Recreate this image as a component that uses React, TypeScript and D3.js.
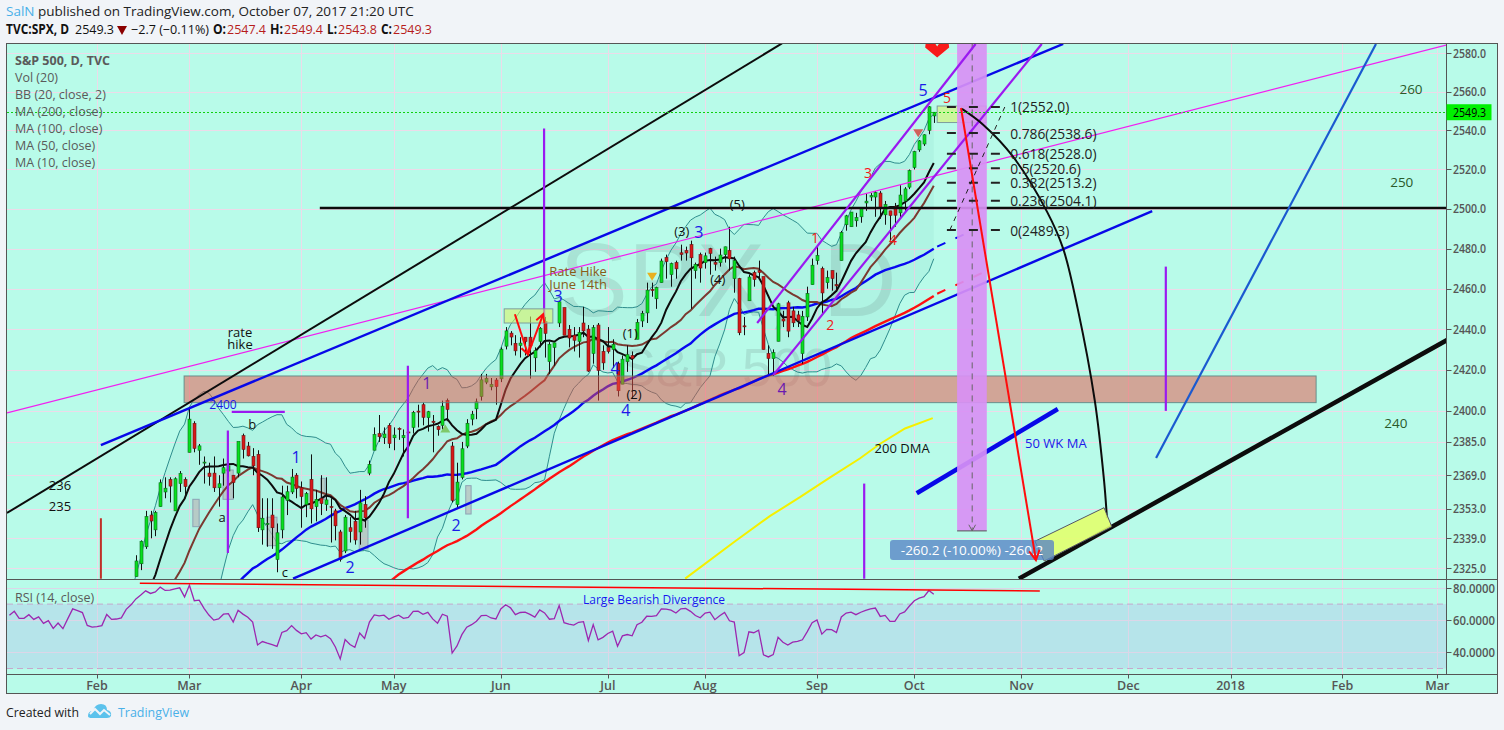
import React from "react";
import * as d3 from "d3";

// ---------- price data (trading days; bar 0 = 2017-02-01) ----------
const firstCloseBar = -53;
const closes = [
  2164.2,2180.4,2176.9,2187.1,2181.9,2198.2,2202.9,2204.7,2213.4,2201.7,2204.7,2198.8,2191.1,2192,2204.7,2212.2,2241.4,2246.2,
  2259.5,2257,2271.7,2253.3,2262,2258.1,2262.5,2270.8,2265.2,2261,2263.8,2268.9,2249.9,2249.3,2238.8,
  2257.8,2270.8,2269,2277,2268.9,2268.9,2275.3,2270.4,2274.6,2267.9,2271.9,2263.7,2271.3,2265.2,2280.1,2298.4,2296.7,2294.7,2280.9,2278.9,
  2279.6,2281,2297.4,2292.6,2293.1,2294.7,2307.9,2316.1,2328.3,2337.6,2349.3,2347.2,2351.2,2365.4,2362.8,2363.8,2367.3,2369.8,2363.6,
  2396,2381.9,2383.1,2375.3,2368.4,2363,2364.9,2372.6,2373.5,2365.5,2385.3,2381.4,2378.3,2373.5,2344,2348.5,2346,2344,2341.6,2358.6,2361.1,2368.1,2362.7,
  2358.8,2360.2,2353,2357.5,2355.5,2357.2,2353.8,2344.9,2329,2349,2342.2,2338.2,2355.8,2348.7,2374.2,2388.6,2387.5,2388.8,2384.2,
  2388.3,2391.2,2388.1,2389.5,2399.3,2399.4,2396.9,2399.6,2394.4,2390.9,2402.3,2400.7,2357,2365.7,2381.7,2394,2398.4,2404.4,2415.1,2415.8,2412.9,2411.8,
  2430.1,2439.1,2436.1,2429.3,2433.1,2433.8,2431.8,2429.4,2440.4,2437.9,2432.5,2433.2,2453.5,2437,2435.6,2434.5,2438.3,2439.1,2419.4,2440.7,2419.7,2423.4,
  2429,2432.5,2409.8,2425.2,2427.4,2425.5,2443.3,2447.8,2459.3,2459.1,2460.6,2473.8,2473.5,2472.5,2469.9,2477.1,2477.8,2475.4,2472.1,2470.3,
  2476.4,2477.6,2472.2,2476.8,2480.9,2474.9,2474,2438.2,2441.3,2465.8,2464.6,2468.1,2430,2425.6,2428.4,2452.5,2444,2439,2443.1,2444.2,2446.3,2457.6,2471.7,
  2476.6,2457.9,2465.5,2465.1,2461.4,2488.1,2496.5,2498.4,2495.6,2500.2,2503.9,2506.7,2508.2,2500.6,2502.2,2496.7,2496.8,2507,2510.1,2519.4,
  2529.1,2534.6,2537.7,2552.1,2549.3,
];
const firstCandleBar = 8;
const opens = [
  2321,2327,2335,2350,2343,2354,2361,2367,2352,2365,2367,2380,2394,2381,2375,2370,2370,2363,2370,2371,2369,2370,2388,2383,2378,2379,2343,2346,2350,2329,2343,2357,2361,2369,2363,2355,2367,2354,2358,2355,2354,2352,2342,2333,2344,2347,2342,2355,2370,2381,2389,2387,2393,
  2387,2391.5,2387,2389.8,2392,2399.9,2403,2396.7,2395,2392.5,2393,2405,2383,2355,2368,2383,2396,2401,2407,2414,2411.7,2415,2415.6,2431.6,2438,2433,2432,2436,2436,2425.9,2434,2443.8,2424,2431,2443,2450.6,2439.9,2437,2434,2443,2440,2428,2442,2429,
  2431,2430,2423,2413,2424,2427,2435,2444,2448,2459.6,2455,2463,2475.6,2467,2473,2477.9,2479,2482,2469,2477,2473,2480,2473,2473,2477,2479,2465,2465,2441.6,2454,2468,2469,2466,2428,2425.5,2434,2445,2453,2449,2447,2428,2446,2462,
  2474,2470,2463,2469,2462,2474,2492,2491,2494,2496,2503,2506,2506,2508,2497,2499,2501,2498,2504,2511,2521,2530,2533,2540,2547.4,
];
const highs = [
  2331,2338,2352,2352,2352,2367,2368,2368,2368,2371,2368,2401,2395,2384,2378,2375,2378,2369,2377,2375,2369,2372,2389,2385,2382,2381,2358,2358,2358,2346,2364,2364,2372,2370,2366,2361,2379,2362,2369,2368,2358,2353,2343,2350,2349,2352,2362,2359,2376,2392,2398,2392,2394,
  2392,2392,2391,2391,2400,2403,2404,2400,2398,2393,2405,2406,2385,2375,2385,2396,2400,2406,2418,2418,2416,2416,2431,2441,2439,2437,2436,2436,2446.2,2431,2441,2446,2433.6,2433,2453.8,2450.6,2442,2441,2441,2451,2442,2442,2443,2432,
  2441,2435,2424,2427,2432,2429,2445,2449,2463,2463,2461,2475,2477,2473,2474,2482,2481,2484,2473,2478,2478,2480.4,2476,2480,2481,2491,2476,2465.4,2446,2467,2469,2474,2466,2432,2430,2453,2449,2454,2451,2449,2449,2461,2475,
  2481,2471,2469,2469,2468,2488.9,2497,2498.4,2498,2500.4,2508,2508,2509,2509,2504,2499,2503,2512,2511,2520,2529.5,2535,2538,2552.5,2549.4,
];
const lows = [
  2321,2324,2334,2339,2340,2354,2358,2356,2352,2361,2358,2380,2380,2374,2365,2364,2361,2354,2364,2368,2358,2368,2377,2378,2369,2342,2336,2335,2334,2323,2339,2350,2360,2358,2344,2349,2346,2347,2350,2352,2337,2338,2328,2332,2337,2336,2336,2344,2369,2381,2385,2384,2382,
  2381,2386,2378,2380,2389,2392,2393,2390,2380,2388,2391,2395,2356,2353,2367,2382,2393,2396,2405,2413,2410,2403,2414,2430,2432,2427,2426,2427,2415.7,2419,2431,2426,2418,2422,2441,2437,2431,2429,2426,2436,2419,2423,2405,2420,
  2428,2421,2407,2413,2419,2406,2435,2441,2443,2456,2450,2463,2465,2461,2465,2474,2474,2450,2465,2463,2470,2467,2469,2471,2473,2469,2458,2437,2437,2454,2461,2465,2430,2417,2417,2434,2441,2436,2441,2441,2423,2444,2462,
  2472,2447,2460,2459,2459,2474,2489,2491,2491,2493,2499,2504,2496,2495,2492,2484,2491,2495,2499,2510,2520,2529,2532,2538,2543.8,
];

// ---------- the slowest average ----------
const ma200Bars = [120.9,131.1,138.3,144.5,150.7,156.8,160.9,166.1,171.8];
const ma200Vals = [2320,2337.5,2349.5,2358.5,2368,2377,2384,2391.5,2396.5];

// ---------- axes ----------
const priceTicks = [2580,2560,2540,2520,2500,2480,2460,2440,2420,2400,2385,2369,2353,2339,2325];
const rsiTicks = [80,60,40];
const monthLabels = ["Feb","Mar","Apr","May","Jun","Jul","Aug","Sep","Oct","Nov","Dec","2018","Feb","Mar"];
const monthBars = [0,19,42,61,83,105,125,148,168,190,212,233,256,275.5];
const lastPrice = 2549.3;

// ---------- drawing tools, as [bar, price] ----------
const blackThin = [[-18.5,2351],[140.8,2585]];
const blackLevel = [[45.8,2500.5],[277.5,2500.5]];
const blueUpper = [[0.8,2383.5],[198.6,2584.7]];
const blueLower = [[40.3,2320],[216.9,2498.9]];
const magentaLine = [[-18.5,2399],[277.5,2584.2]];
const blackThick = [[189.5,2320],[277.5,2434.6]];
const purpleUp1 = [[135.7,2443],[180.6,2584.7]];
const purpleUp2 = [[139,2417.4],[194.2,2584.7]];
const blueSteep = [[217.7,2377.3],[262.9,2584.7]];
const wk50 = [[168.5,2360.4],[197.5,2400.9]];
const ma50Dash = [[172.7,2481],[179.9,2489]];
const ma100Dash = [[172.7,2457.5],[182.1,2468]];
const bigRedArrow = [[177.6,2551.5],[193,2328.7]];
const redVeeA = [[85.9,2447.3],[88.6,2427.5]];
const redVeeB = [[88.6,2427.5],[91.7,2447.3]];
const arcPoints = [[177.8,2551],[182.1,2543],[188.3,2526.5],[195.3,2498.5],[198.6,2480],[201.6,2450],[205.1,2405],[207,2366.5],[207.6,2348.5]];
const purpleVerticals = [[91.9,2541,2445.8],[63.9,2422,2348.5],[26.9,2390.5,2332],[157.7,2365,2320],[219.7,2471,2400]];
const purpleFlat = [[27.7,2399.5],[38.6,2399.5]];
const redVertical = [[0.8,2348.5],[0.8,2320]];
const zoneBox = [17.9,250.6,2417,2404];
const bandBox = [176.8,182.9,2585,2342.5];
const bandCentre = 179.9;
const noteBoxes = [[83.7,93.7,2450,2443],[172.7,182.7,2552.5,2544]];
const yellowBox = [[192.8,2337.6],[207,2353.5],[208.6,2344.5],[194.7,2328.3]];
const greyBoxes = [[19.7,21,2357.5,2344.5],[25.9,28,2371.5,2357.5],[34.9,37,2349,2335.5],[46,46.9,2367.5,2357.5],[53.9,55.7,2347.5,2334],[75.8,76.9,2364,2350.5]];
const rsiDivergence = [[8.8,83],[193.8,78.1]];

const fibRatios = ["1","0.786","0.618","0.5","0.382","0.236","0"];
const fibPrices = [2552,2538.6,2528,2520.6,2513.2,2504.1,2489.3];
const fibFrom = 174.7, fibTo = 186, fibLabelBar = 187.7;
const fibTrend = [[175.3,2489.3],[186.6,2552]];

const blueNotes: [string,number,number][] = [["1",40.9,2377.5],["2",52,2325.5],["2",73.8,2345.5],["3",94.8,2456.5],["4",108.7,2400.5],["4",106.5,2421],["3",123.7,2488.5],["5",169.8,2561]];
const redNotes: [string,number,number][] = [["1",147.6,2485.5],["2",150.7,2442.5],["3",158.5,2518.5],["4",163.6,2484.5],["5",174.7,2557]];
const purpleNotes: [string,number,number][] = [["1",67.8,2413.5],["4",140.8,2410.5]];
const blackNotes: [string,number,number][] = [["rate",29.4,2438.5],["hike",29.4,2432.5],["b",31.9,2393.5],["a",25.7,2349],["c",38.6,2323],["(1)",109.6,2438],["(2)",110.4,2408],["(3)",120.2,2489],["(4)",127.6,2465],["(5)",131.6,2502.5],["200 DMA",165.5,2382],["236",-7.6,2364.5],["235",-7.6,2354.5]];
const levelNotes: [string,number,number][] = [["260",270.1,2561.5],["250",268.2,2513.5],["240",267,2394]];
const rateNotes: [string,number,number][] = [["Rate Hike",98.9,2469],["June 14th",98.9,2462.5]];
const legendLines = ["Vol (20)","BB (20, close, 2)","MA (200, close)","MA (100, close)","MA (50, close)","MA (10, close)"];

const FONT = "'Open Sans', 'Noto Sans', sans-serif";

// ---------- layout ----------
const L = 7, R = 1446.5, OUT = 1497.5, TOP = 43.5, MID = 579.5, RBOT = 674.5, BOT = 693.5;

const X = d3.scaleLinear().domain([0,168]).range([97,914.3]);
const Y = d3.scaleLog().domain([2325,2580]).range([568,53]);
const RY = d3.scaleLinear().domain([80,30]).range([588,668.5]);

const closeAt = (bar:number) => closes[bar-firstCloseBar];
const allBars = d3.range(firstCloseBar, firstCloseBar+closes.length);
const sma = (bar:number,n:number) => d3.mean(d3.range(bar-n+1,bar+1),(b)=>closeAt(b)) as number;
const bbBars = allBars.filter(b=>b>=-1);
const bb = bbBars.map(b=>{
  const w = d3.range(b-19,b+1).map(closeAt);
  const m = d3.mean(w) as number, s = Math.sqrt((d3.variance(w) as number)*19/20);
  return {b, m, up:m+2*s, lo:m-2*s};
});
const ma10 = allBars.filter(b=>b>=5).map(b=>[b,sma(b,10)]);
const ma50 = allBars.filter(b=>b>=25).map(b=>[b,sma(b,50)]);
const ma100 = allBars.filter(b=>b>=55).map(b=>[b,sma(b,100)]);
// Wilder RSI(14)
const rsi:number[][] = (()=>{
  const out:number[][] = [];
  let g=0,l=0;
  for(let k=1;k<closes.length;k++){
    const d=closes[k]-closes[k-1], up=Math.max(d,0), dn=Math.max(-d,0);
    if(k<=14){g+=up/14;l+=dn/14;} else {g=(g*13+up)/14;l=(l*13+dn)/14;}
    if(k>=14 && k+firstCloseBar>=-18){out.push([k+firstCloseBar,100-100/(1+g/l)]);}
  }
  return out;
})();

const pl = d3.line<number[]>().x(d=>X(d[0])).y(d=>Y(d[1]));
const rl = d3.line<number[]>().x(d=>X(d[0])).y(d=>RY(d[1]));

function arrowHead(seg:number[][], size:number){
  const [a,b]=seg; const x1=X(a[0]),y1=Y(a[1]),x2=X(b[0]),y2=Y(b[1]);
  const ang=Math.atan2(y2-y1,x2-x1);
  const p=(o:number)=>`${x2-size*Math.cos(ang-o)},${y2-size*Math.sin(ang-o)}`;
  return `M${p(0.5)}L${x2},${y2}L${p(-0.5)}`;
}
const Line=({d,c,w=1,dash}:{d:number[][],c:string,w?:number,dash?:string})=>
  <path d={pl(d) as string} fill="none" stroke={c} strokeWidth={w} strokeDasharray={dash}/>;

const Notes=({list,c,size,w}:{list:[string,number,number][],c:string,size:number,w?:number})=>
  <g fill={c} fontSize={size} fontWeight={w} textAnchor="middle" dominantBaseline="central">
    {list.map((n,k)=><text key={k} x={X(n[1])} y={Y(n[2])}>{n[0]}</text>)}
  </g>;

// fixed-width text, so the substituted font keeps the reference's extents
const T=({x,y,len,fill,bold,size=13.5,children}:{x:number,y:number,len:number,fill:string,bold?:boolean,size?:number,children:React.ReactNode})=>
  <text x={x} y={y} fill={fill} fontSize={size} fontWeight={bold?700:400} dominantBaseline="central" textLength={len} lengthAdjust="spacingAndGlyphs">{children}</text>;

export default function App(){
  const area = d3.area<typeof bb[0]>().x(d=>X(d.b)).y0(d=>Y(d.up)).y1(d=>Y(d.lo));
  const bbLine=(k:"up"|"lo"|"m")=>pl(bb.map(d=>[d.b,d[k]])) as string;
  const candleBars=d3.range(firstCandleBar,firstCandleBar+opens.length);
  const bW=R-L;
  return (
    <svg width={1504} height={730} style={{position:"absolute",left:0,top:0,display:"block"}} fontFamily={FONT}>
      <defs>
        <clipPath id="pp"><rect x={L} y={TOP} width={bW} height={MID-TOP}/></clipPath>
        <clipPath id="rp"><rect x={L} y={MID} width={bW} height={RBOT-MID}/></clipPath>
      </defs>
      <rect width={1504} height={730} fill="#f1f4f8"/>
      <rect x={L} y={TOP} width={OUT-L} height={BOT-TOP} fill="#b8fbe9"/>

      {/* grid */}
      <g stroke="#ecdbe9" strokeWidth={1}>
        {monthBars.map((b,k)=><line key={k} x1={Math.round(X(b))+.5} x2={Math.round(X(b))+.5} y1={TOP} y2={RBOT}/>)}
        {priceTicks.map(p=><line key={p} x1={L} x2={R} y1={Math.round(Y(p))+.5} y2={Math.round(Y(p))+.5}/>)}
        {rsiTicks.map(p=><line key={p} x1={L} x2={R} y1={Math.round(RY(p))+.5} y2={Math.round(RY(p))+.5}/>)}
      </g>

      <g clipPath="url(#pp)">
        {/* watermark */}
        <text x={728} y={316} textAnchor="middle" fontSize={103} fill="#5a6e6e" opacity={0.16} fontFamily="'Liberation Sans',sans-serif">SPX, D</text>
        <text x={726} y={386} textAnchor="middle" fontSize={54} fill="#5a6e6e" opacity={0.16} fontFamily="'Liberation Sans',sans-serif">S&amp;P 500</text>

        {/* bollinger */}
        <path d={area(bb) as string} fill="#1e8c82" opacity={0.06}/>
        <path d={bbLine("up")} fill="none" stroke="#2f8d8d" strokeWidth={1}/>
        <path d={bbLine("lo")} fill="none" stroke="#2f8d8d" strokeWidth={1}/>

        {/* grey note boxes */}
        {greyBoxes.map((g,k)=><rect key={k} x={X(g[0])} y={Y(g[2])} width={X(g[1])-X(g[0])} height={Y(g[3])-Y(g[2])} fill="#b9b9b9" fillOpacity={0.7} stroke="#8da3b5" strokeWidth={1}/>)}

        {/* averages */}
        <path d={pl(d3.zip(ma200Bars,ma200Vals) as number[][]) as string} fill="none" stroke="#f5f000" strokeWidth={2}/>
        <path d={pl(ma100) as string} fill="none" stroke="#ff1010" strokeWidth={2.4}/>
        <path d={pl(ma50) as string} fill="none" stroke="#0808f0" strokeWidth={2.4}/>
        <path d={bbLine("m")} fill="none" stroke="#7a3a30" strokeWidth={2}/>
        <path d={pl(ma10) as string} fill="none" stroke="#0c0c0c" strokeWidth={2}/>
        <Line d={ma50Dash} c="#0808f0" w={2} dash="9 11"/>
        <Line d={ma100Dash} c="#ff1010" w={2} dash="9 11"/>

        {/* candles */}
        {candleBars.map(b=>{
          const k=b-firstCandleBar,o=opens[k],h=highs[k],l=lows[k],c=closeAt(b);
          const cx=Math.round(X(b))+.5, up=c>=o;
          const y0=Y(Math.max(o,c)), y1=Y(Math.min(o,c));
          return <g key={b}>
            <line x1={cx} x2={cx} y1={Y(h)} y2={Y(l)} stroke="#111" strokeWidth={1}/>
            <rect x={cx-1.5} y={y0} width={3} height={Math.max(y1-y0,1)} fill={up?"#06e01e":"#d81818"} stroke={up?"#0a6a1b":"#6a1414"} strokeWidth={0.6}/>
          </g>;
        })}

        {/* zone */}
        <rect x={X(zoneBox[0])} y={Y(zoneBox[2])} width={X(zoneBox[1])-X(zoneBox[0])} height={Y(zoneBox[3])-Y(zoneBox[2])} fill="rgba(233,80,70,0.5)" stroke="rgba(80,130,130,0.8)"/>

        {/* trend lines */}
        <Line d={magentaLine} c="#f020f0" w={1.2}/>
        <Line d={blackThin} c="#0c0c0c" w={2}/>
        <Line d={blueUpper} c="#0808e8" w={2.4}/>
        <Line d={blueLower} c="#0808e8" w={2.4}/>
        <Line d={blackLevel} c="#0c0c0c" w={2.5}/>
        <Line d={blackThick} c="#0c0c0c" w={4.5}/>
        <Line d={blueSteep} c="#1a5ad0" w={2.2}/>
        <Line d={wk50} c="#0808e8" w={4.5}/>
        {purpleVerticals.map((v,k)=><Line key={k} d={[[v[0],v[1]],[v[0],v[2]]]} c="#9a1af0" w={2.2}/>)}
        <Line d={purpleFlat} c="#9a1af0" w={2.2}/>
        <Line d={redVertical} c="#c03028" w={2}/>

        {/* rectangles */}
        {noteBoxes.map((g,k)=><rect key={k} x={X(g[0])} y={Y(g[2])} width={X(g[1])-X(g[0])} height={Y(g[3])-Y(g[2])} fill="#d9f36a" fillOpacity={0.6} stroke="#7d9d9d"/>)}

        {/* projected drop band */}
        <rect x={X(bandBox[0])} y={Y(bandBox[2])} width={X(bandBox[1])-X(bandBox[0])} height={Y(bandBox[3])-Y(bandBox[2])} fill="#d890f4" fillOpacity={0.92} />
        <line x1={X(bandBox[0])} x2={X(bandBox[1])} y1={Y(bandBox[3])} y2={Y(bandBox[3])} stroke="#555"/>
        <Line d={[[bandCentre,bandBox[2]],[bandCentre,bandBox[3]]]} c="#666" w={1} dash="6 5"/>
        <path d={arrowHead([[bandCentre,bandBox[2]],[bandCentre,bandBox[3]]],7)} fill="none" stroke="#666"/>

        <Line d={purpleUp1} c="#9a1af0" w={2.2}/>
        <Line d={purpleUp2} c="#9a1af0" w={2.2}/>

        {/* black arc */}
        <path d={d3.line<number[]>().x(d=>X(d[0])).y(d=>Y(d[1])).curve(d3.curveCatmullRom)(arcPoints) as string} fill="none" stroke="#0c0c0c" strokeWidth={2}/>

        {/* fib */}
        {fibPrices.map((p,k)=><g key={k}>
          <line x1={X(fibFrom)} x2={X(fibTo)} y1={Y(p)} y2={Y(p)} stroke="#222" strokeWidth={2} strokeDasharray="9 13"/>
          <text x={X(fibLabelBar)} y={Y(p)} dominantBaseline="central" fontSize={13.8} fill="#222">{fibRatios[k]}({p.toFixed(1)})</text>
        </g>)}
        <Line d={fibTrend} c="#222" w={1} dash="5 5"/>

        {/* projected label */}
        <path d={`M${yellowBox.map(p=>`${X(p[0])},${Y(p[1])}`).join("L")}Z`} fill="#e2ff6e" fillOpacity={0.9} stroke="#556"/>
        <rect x={890} y={540} width={164} height={20} rx={3} fill="#5a86c6" fillOpacity={0.8}/>
        <text x={972} y={550} textAnchor="middle" dominantBaseline="central" fill="#fff" fontSize={13.5}>-260.2 (-10.00%) -260.2</text>

        {/* arrows */}
        <Line d={bigRedArrow} c="#ff0c0c" w={2}/>
        <path d={arrowHead(bigRedArrow,11)} fill="none" stroke="#ff0c0c" strokeWidth={2}/>
        <Line d={redVeeA} c="#ff0c0c" w={2}/>
        <path d={arrowHead(redVeeA,9)} fill="none" stroke="#ff0c0c" strokeWidth={2}/>
        <Line d={redVeeB} c="#ff0c0c" w={2}/>
        <path d={arrowHead(redVeeB,9)} fill="none" stroke="#ff0c0c" strokeWidth={2}/>

        {/* markers */}
        <path transform={`translate(${X(71.6)},${Y(2391)})`} d="M0,-5L5,3L-5,3Z" fill="#7fc96a"/>
        <path transform={`translate(${X(114.1)},${Y(2466.5)})`} d="M0,5L5,-3L-5,-3Z" fill="#e8b020"/>
        <path transform={`translate(${X(168.8)},${Y(2539)})`} d="M0,5L5,-3L-5,-3Z" fill="#d0605a"/>
        <path transform={`translate(${X(172.7)},${Y(2585)})`} d="M-11.5,0L-2,0L0,3L2,0L11.5,0L12,4L0,14L-12,4Z" fill="#f81a1a"/>

        {/* notes */}
        <Notes list={blackNotes} c="#111" size={13}/>
        <Notes list={blueNotes} c="#1a1ae8" size={16}/>
        <Notes list={redNotes} c="#f01818" size={14}/>
        <Notes list={purpleNotes} c="#6a1ab0" size={16}/>
        <Notes list={rateNotes} c="#8a5a18" size={13}/>
        <Notes list={levelNotes} c="#2a5a2a" size={13.5}/>
        <text x={X(197.1)} y={Y(2384.5)} textAnchor="middle" dominantBaseline="central" fill="#1a1ae8" fontSize={13}>50 WK MA</text>
        <text x={X(25.9)} y={Y(2403)} textAnchor="middle" dominantBaseline="central" fill="#1a1ae8" fontSize={12}>2400</text>

        {/* last price */}
        <line x1={L} x2={R} y1={Math.round(Y(lastPrice))+.5} y2={Math.round(Y(lastPrice))+.5} stroke="#10d010" strokeDasharray="2 2"/>
      </g>

      {/* RSI pane */}
      <g clipPath="url(#rp)">
        <rect x={L} y={RY(70)} width={bW} height={RY(30)-RY(70)} fill="#b6e4ea"/>
        {rsiTicks.map(p=><line key={p} x1={L} x2={R} y1={Math.round(RY(p))+.5} y2={Math.round(RY(p))+.5} stroke="#dcd6e8"/>)}
        {monthBars.map((b,k)=><line key={k} x1={Math.round(X(b))+.5} x2={Math.round(X(b))+.5} y1={RY(70)} y2={RY(30)} stroke="#dcd6e8"/>)}
        {[70,30].map(v=><line key={v} x1={L} x2={R} y1={RY(v)} y2={RY(v)} stroke="#c5a8cc" strokeDasharray="6 4"/>)}
        <path d={rl(rsi) as string} fill="none" stroke="#9c27b0" strokeWidth={1.3}/>
        <path d={rl(rsiDivergence) as string} fill="none" stroke="#f00" strokeWidth={1.5}/>
        <text x={X(114.5)} y={RY(72.6)} textAnchor="middle" dominantBaseline="central" fontSize={12} fill="#1818f0">Large Bearish Divergence</text>
      </g>

      {/* frames */}
      <g stroke="#555" fill="none">
        <rect x={6.5} y={TOP} width={OUT-6.5} height={BOT-TOP}/>
        <line x1={6.5} x2={OUT} y1={MID} y2={MID}/>
        <line x1={6.5} x2={OUT} y1={RBOT} y2={RBOT}/>
        <line x1={R} x2={R} y1={TOP} y2={RBOT}/>
      </g>

      {/* price axis */}
      <g fontSize={12.5} fill="#555" fontWeight={600}>
        {priceTicks.map(p=><g key={p}>
          <line x1={R} x2={R+5} y1={Math.round(Y(p))+.5} y2={Math.round(Y(p))+.5} stroke="#555"/>
          <text x={1453} y={Y(p)} dominantBaseline="central" textLength={33} lengthAdjust="spacingAndGlyphs">{p.toFixed(1)}</text>
        </g>)}
        {rsiTicks.map(p=><g key={p}>
          <line x1={R} x2={R+5} y1={Math.round(RY(p))+.5} y2={Math.round(RY(p))+.5} stroke="#555"/>
          <text x={1453} y={RY(p)} dominantBaseline="central" textLength={42} lengthAdjust="spacingAndGlyphs">{p.toFixed(4)}</text>
        </g>)}
        {monthBars.map((b,k)=><g key={k}>
          <line x1={Math.round(X(b))+.5} x2={Math.round(X(b))+.5} y1={RBOT} y2={RBOT+4} stroke="#555"/>
          <text x={X(b)} y={685} textAnchor="middle" dominantBaseline="central">{monthLabels[k]}</text>
        </g>)}
      </g>
      <rect x={R} y={Y(lastPrice)-8} width={45} height={16} fill="#00f000"/>
      <text x={1453} y={Y(lastPrice)} dominantBaseline="central" fontSize={12.5} fill="#000" textLength={33} lengthAdjust="spacingAndGlyphs">{lastPrice.toFixed(1)}</text>

      {/* legends */}
      <g fontSize={12.5} fill="#5a5a5a">
        <text x={15} y={60} dominantBaseline="central" fontWeight={700}>S&amp;P 500, D, TVC</text>
        {legendLines.map((t,k)=><text key={k} x={15} y={77+k*17} dominantBaseline="central">{t}</text>)}
        <text x={15} y={597} dominantBaseline="central">RSI (14, close)</text>
      </g>

      {/* header */}
      <text x={6} y={11} fontSize={13.5} dominantBaseline="central" fill="#222"><tspan fill="#49b0e8">SalN</tspan> published on TradingView.com, October 07, 2017 21:20 UTC</text>
      <T x={6} y={29} len={63} fill="#111" bold>TVC:SPX, D</T>
      <T x={75} y={29} len={39} fill="#111">2549.3</T>
      <path d="M117,26L127,26L122,35Z" fill="#8b0000"/>
      <T x={131} y={29} len={78} fill="#111">−2.7 (−0.11%)</T>
      <T x={213} y={29} len={13} fill="#111" bold>O:</T><T x={227} y={29} len={39} fill="#b71c1c">2547.4</T>
      <T x={270} y={29} len={13} fill="#111" bold>H:</T><T x={284} y={29} len={39} fill="#b71c1c">2549.4</T>
      <T x={327} y={29} len={10} fill="#111" bold>L:</T><T x={338} y={29} len={39} fill="#b71c1c">2543.8</T>
      <T x={381} y={29} len={11} fill="#111" bold>C:</T><T x={393} y={29} len={39} fill="#b71c1c">2549.3</T>

      {/* footer */}
      <T x={6} y={712} len={73} fill="#222">Created with</T>
      <path d="M88,716 Q88,711 93,711 Q95,704 101,704 Q107,704 107,710 Q112,711 111,716 Q110,718 107,718 L92,718 Q88,718 88,716Z" fill="#5cc2ec"/>
      <path d="M90,714 L95,709 L100,714 L104,710 L110,715" fill="none" stroke="#f1f4f8" strokeWidth={2}/>
      <T x={118} y={712} len={71} fill="#49b0e8">TradingView</T>
    </svg>
  );
}
